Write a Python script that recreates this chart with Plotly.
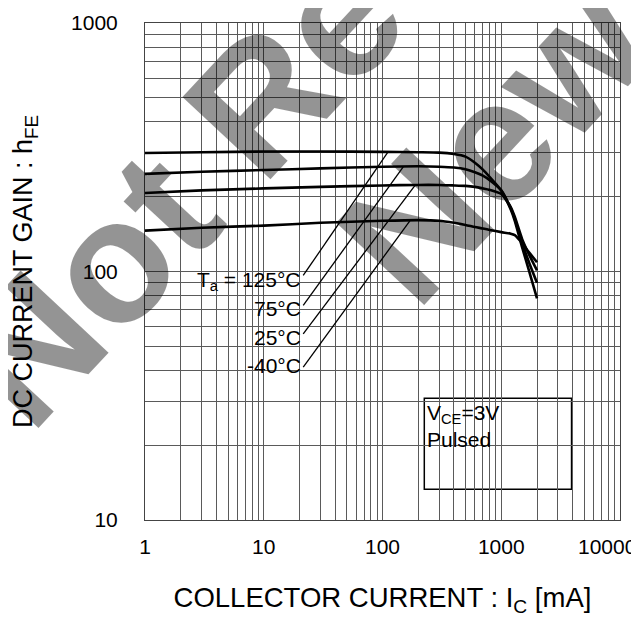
import numpy as np
import plotly.graph_objects as go

# ---------------- data ----------------
ic_ma = [1, 3, 10, 30, 100, 200, 300, 400, 500, 600, 700, 800, 1000, 1200, 1300, 1500, 1700, 2000]
hfe_125 = [300, 302, 304, 304, 303, 302, 301, 297, 290, 274, 257, 240, 212, 178, 160, 125, 102, 78]
hfe_75 = [247, 252, 256, 260, 264, 265, 264, 262, 258, 251, 243, 233, 212, 180, 163, 130, 110, 90]
hfe_25 = [207, 212, 216, 219, 222, 223, 223, 222, 221, 219, 216, 213, 205, 182, 166, 135, 118, 101]
hfe_m40 = [146, 150, 153, 157, 160, 161, 160, 157, 154, 151, 149, 147, 144, 142, 140, 130, 120, 109]

temp_labels = ["T<sub>a</sub> = 125°C", "75°C", "25°C", "-40°C"]
label_x = [21.5, 21.5, 21.5, 21.5]
label_y = [92.0, 71.0, 54.2, 41.9]
lead_x0 = [21.5, 21.5, 21.5, 21.5]
lead_y0 = [96.4, 73.0, 56.1, 41.2]
lead_x1 = [111, 150, 188, 170]
lead_y1 = [302, 264, 222, 160]

x_decades = [1, 10, 100, 1000, 10000]
y_decades = [10, 100, 1000]
x_tick_text = ["1", "10", "100", "1000", "10000"]

FONT = "Liberation Sans, Arial, Helvetica, sans-serif"

x_grid = [m * 10 ** e for e in range(0, 4) for m in range(1, 10)] + [10000]
# the last decade label does not fit at the right edge; it is drawn shifted left below
x_text = [x_tick_text[x_decades.index(v)] if (v in x_decades and v != x_decades[-1]) else ""
          for v in x_grid]
y_grid = [m * 10 ** e for e in range(1, 3) for m in range(1, 10)] + [1000]
y_text = [str(v) if v in y_decades else "" for v in y_grid]

fig = go.Figure()

for series in [hfe_125, hfe_75, hfe_25, hfe_m40]:
    fig.add_trace(go.Scatter(x=ic_ma, y=series, mode="lines",
                             line=dict(color="black", width=2.6, shape="spline", smoothing=0.6),
                             hoverinfo="skip"))

for i in range(4):
    fig.add_trace(go.Scatter(x=[lead_x0[i], lead_x1[i]], y=[lead_y0[i], lead_y1[i]], mode="lines",
                             line=dict(color="black", width=1.3), hoverinfo="skip"))

# white legend panel (hides the grid) and the V_CE box
fig.add_shape(type="rect", xref="paper", yref="paper", x0=0.0463, x1=0.3333, y0=0.2414, y1=0.5584,
              fillcolor="white", line=dict(width=0), layer="between")
fig.add_shape(type="rect", xref="paper", yref="paper", x0=0.588, x1=0.898, y0=0.062, y1=0.245,
              fillcolor="white", line=dict(color="black", width=1.5), layer="between")

for i in range(4):
    fig.add_annotation(x=np.log10(label_x[i]), y=np.log10(label_y[i]), xref="x", yref="y",
                       text=temp_labels[i], showarrow=False, xanchor="right", yanchor="middle",
                       font=dict(family=FONT, size=21, color="black"))

fig.add_annotation(x=0.589, y=0.19, xref="paper", yref="paper",
                   text="V<sub>CE</sub>=3V<br>Pulsed", showarrow=False, align="left",
                   xanchor="left", yanchor="middle", font=dict(family=FONT, size=21, color="black"))

# last x tick label, moved left so it stays inside the picture
fig.add_annotation(x=np.log10(x_decades[-1]), y=-0.0543, xref="x", yref="paper",
                   text=x_tick_text[-1], showarrow=False, xanchor="center", yanchor="middle",
                   xshift=-13, font=dict(family=FONT, size=21, color="black"))

# watermark
wm_font = dict(family=FONT, size=175, color="rgba(0,0,0,0.42)")
fig.add_annotation(x=1.0147, y=1.632, xref="paper", yref="paper", text="<b>Not Recommended for</b>",
                   showarrow=False, textangle=-47, xanchor="center", yanchor="middle", font=wm_font)
fig.add_annotation(x=1.261, y=1.300, xref="paper", yref="paper", text="<b>New Designs</b>",
                   showarrow=False, textangle=-47, xanchor="center", yanchor="middle", font=wm_font)

fig.update_xaxes(type="log", range=[0, 4], tickvals=x_grid, ticktext=x_text, ticks="",
                 showgrid=True, gridcolor="#5a5a5a", gridwidth=1, zeroline=False,
                 showline=True, linecolor="#444", linewidth=1, mirror=True,
                 tickfont=dict(family=FONT, size=21, color="black"), ticklabelstandoff=8,
                 title=dict(text="COLLECTOR CURRENT : I<sub>C</sub> [mA]", standoff=30,
                            font=dict(family=FONT, size=27.5, color="black")))
fig.update_yaxes(type="log", range=[1, 3], tickvals=y_grid, ticktext=y_text, ticks="",
                 showgrid=True, gridcolor="#5a5a5a", gridwidth=1, zeroline=False,
                 showline=True, linecolor="#444", linewidth=1, mirror=True,
                 ticklabeloverflow="allow",
                 tickfont=dict(family=FONT, size=21, color="black"), ticklabelstandoff=22,
                 title=dict(text="DC CURRENT GAIN : h<sub>FE</sub>", standoff=30,
                            font=dict(family=FONT, size=27, color="black")))

# the page body has an 8 px margin, so the figure is made 8 px smaller and margins shifted
fig.update_layout(width=631, height=609, margin=dict(l=137, r=19, t=15, b=97, autoexpand=False),
                  plot_bgcolor="white", paper_bgcolor="white", showlegend=False,
                  font=dict(family=FONT, color="black"))

fig.write_html("out.html")
